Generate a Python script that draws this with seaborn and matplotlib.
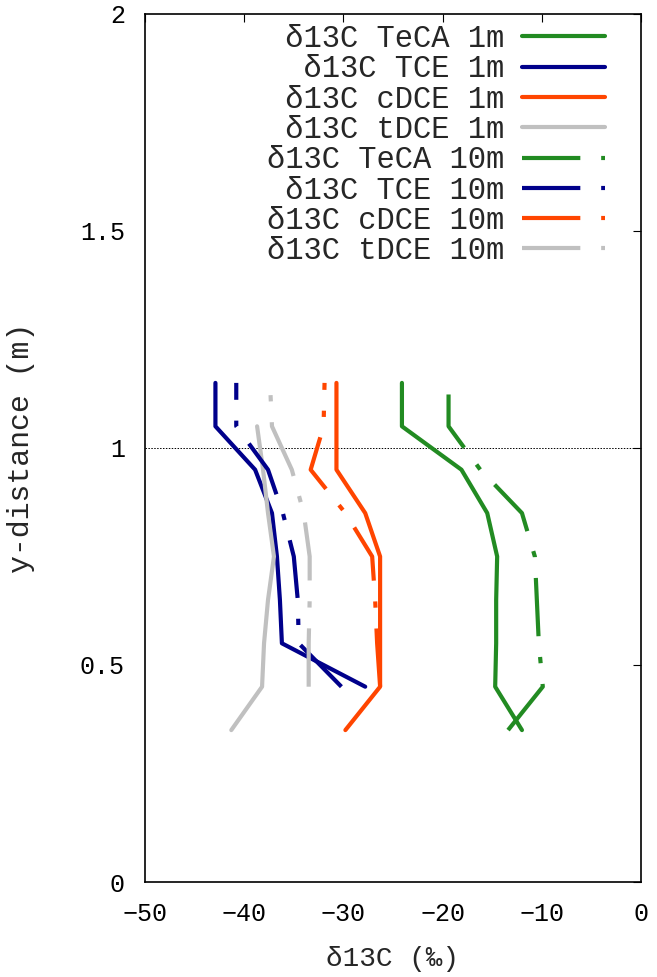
# d13C profiles along y-distance, 1m and 10m, four compounds
import numpy as np
import pandas as pd
import seaborn as sns
import matplotlib.pyplot as plt

# y positions (m), bottom to top
y_full = [0.35, 0.45, 0.55, 0.65, 0.75, 0.85, 0.95, 1.05, 1.15]
y_short = [0.45, 0.55, 0.65, 0.75, 0.85, 0.95, 1.05, 1.15]
y_tdce1 = [0.35, 0.45, 0.55, 0.65, 0.75, 0.85, 0.95, 1.05]

# d13C values (permil)
teca_1m = [-12.0, -14.7, -14.6, -14.6, -14.5, -15.5, -18.1, -24.1, -24.1]
tce_1m = [-27.8, -36.2, -36.4, -36.7, -37.2, -38.9, -42.9, -42.9]
cdce_1m = [-29.8, -26.3, -26.3, -26.3, -26.3, -27.8, -30.7, -30.7, -30.7]
tdce_1m = [-41.3, -38.2, -38.0, -37.6, -37.0, -37.6, -38.1, -38.7]
teca_10m = [-13.4, -9.9, -10.3, -10.5, -10.7, -12.0, -16.2, -19.4, -19.4]
tce_10m = [-30.2, -34.5, -34.6, -35.0, -36.1, -37.6, -40.8, -40.8]
cdce_10m = [-26.3, -26.6, -26.8, -27.1, -29.8, -33.3, -32.0, -31.9]
tdce_10m = [-33.5, -33.5, -33.4, -33.4, -34.0, -35.2, -37.2, -37.4]

labels = ['δ13C TeCA 1m', 'δ13C TCE 1m', 'δ13C cDCE 1m', 'δ13C tDCE 1m',
          'δ13C TeCA 10m', 'δ13C TCE 10m', 'δ13C cDCE 10m', 'δ13C tDCE 10m']
colors = ['#228b22', '#00008b', '#ff4500', '#c0c0c0'] * 2

series = [(teca_1m, y_full), (tce_1m, y_short), (cdce_1m, y_full),
          (tdce_1m, y_tdce1), (teca_10m, y_full), (tce_10m, y_short),
          (cdce_10m, y_short), (tdce_10m, y_short)]

x_ticks = [-50, -40, -30, -20, -10, 0]
y_ticks = [0, 0.5, 1, 1.5, 2]
y_ticklabels = ['0', '0.5', '1', '1.5', '2']

sns.set_style('white')
mono = ['Liberation Mono', 'DejaVu Sans Mono']
plt.rcParams['font.family'] = mono

fig = plt.figure(figsize=(6.57, 9.77), dpi=100)
ax = fig.add_axes([145 / 657, 1 - 882 / 977, 496 / 657, 868 / 977])

dashdot = (0, (14, 5, 1.5, 5))
width = max(len(s) for s in labels)
for i, ((xv, yv), lab, col) in enumerate(zip(series, labels, colors)):
    df = pd.DataFrame({'x': xv, 'y': yv})
    ls = '-' if i < 4 else dashdot
    # pad labels so the monospace text lines up on the right
    sns.lineplot(data=df, x='x', y='y', orient='y', sort=True,
                 estimator=None, color=col, lw=3, linestyle=ls,
                 label=lab.rjust(width), ax=ax)

ax.axhline(1.0, color='black', lw=0.7, ls=(0, (1.5, 1.5)), zorder=0)

ax.set_xlim(-50, 0)
ax.set_ylim(0, 2)
ax.set_xticks(x_ticks)
ax.set_yticks(y_ticks)
ax.set_yticklabels(y_ticklabels)
ax.tick_params(direction='in', length=6, width=0.8, top=True, right=True,
               labelsize=18, colors='black', pad=14.5)
for sp in ax.spines.values():
    sp.set_color('black')
    sp.set_linewidth(1.2)

ax.set_xlabel('δ13C (‰)', fontsize=20, labelpad=14)
ax.set_ylabel('y-distance (m)', fontsize=21.5, labelpad=32)

ax.legend(loc='upper right', bbox_to_anchor=(0.927, 0.9885), frameon=False,
          markerfirst=False, handlelength=2.7, handletextpad=0.6,
          labelspacing=0.01, borderpad=0, borderaxespad=0,
          prop={'family': mono, 'size': 22})

fig.savefig('out.png', dpi=100)
